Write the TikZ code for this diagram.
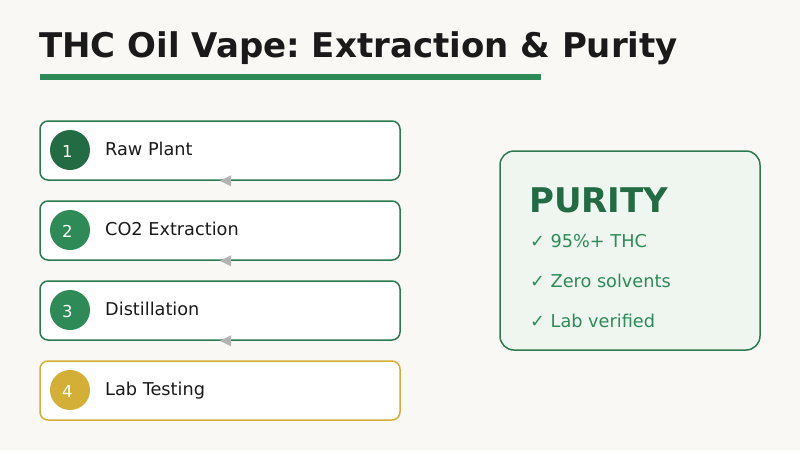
\documentclass[tikz,border=0pt]{standalone}
\usepackage{fontspec}
\setmainfont{DejaVu Sans}
\frenchspacing
\definecolor{bgc}{HTML}{F9F8F4}
\definecolor{dkgreen}{HTML}{226B43}
\definecolor{mdgreen}{HTML}{2E8B57}
\definecolor{bordergreen}{HTML}{2E7A50}
\definecolor{goldc}{HTML}{D4AF37}
\definecolor{txt}{HTML}{1A1A1A}
\definecolor{purfill}{HTML}{EFF6F0}
\definecolor{arrowgrey}{HTML}{B4B4B4}
\begin{document}
\begin{tikzpicture}[x=1pt,y=-1pt,
  stepbox/.style={draw=bordergreen,line width=1.5pt,fill=white,rounded corners=8pt,minimum width=360pt,minimum height=59pt,inner sep=0pt,anchor=center},
  numcirc/.style={circle,minimum size=40pt,inner sep=0pt},
  numtext/.style={anchor=center,inner sep=0pt,text=white,font=\fontsize{16.5}{19}\selectfont},
  steplabel/.style={anchor=base west,inner sep=0pt,text=txt,font=\fontsize{17.7}{21}\selectfont},
  itemtext/.style={anchor=base west,inner sep=0pt,text=mdgreen,font=\fontsize{17.7}{21}\selectfont},
  tip/.style={fill=arrowgrey}
]
\fill[bgc] (0,0) rectangle (800,450);
\useasboundingbox (0,0) rectangle (800,450);
% title
\node[anchor=base west,inner sep=0pt,text=txt,font=\bfseries\fontsize{34}{40}\selectfont] (title) at (39,57) {THC Oil Vape: Extraction \& Purity};
\fill[mdgreen] (40,74) rectangle (541,80);
% steps
\node[stepbox] (b1) at (220,150.5) {};
\node[stepbox] (b2) at (220,230.5) {};
\node[stepbox] (b3) at (220,310.5) {};
\node[stepbox,draw=goldc] (b4) at (220,390.5) {};
\node[numcirc,fill=dkgreen] (c1) at (70,150) {};
\node[numcirc,fill=mdgreen] (c2) at (70,230) {};
\node[numcirc,fill=mdgreen] (c3) at (70,310) {};
\node[numcirc,fill=goldc] (c4) at (70,390) {};
\node[numtext] (n1) at ([xshift=-2.7pt,yshift=-1pt]c1.center) {1};
\node[numtext] (n2) at ([xshift=-2.7pt,yshift=-1pt]c2.center) {2};
\node[numtext] (n3) at ([xshift=-2.7pt,yshift=-1pt]c3.center) {3};
\node[numtext] (n4) at ([xshift=-2.7pt,yshift=-1pt]c4.center) {4};
\node[steplabel] (l1) at (105,155.5) {Raw Plant};
\node[steplabel] (l2) at (105,235.5) {CO2 Extraction};
\node[steplabel] (l3) at (105,315.5) {Distillation};
\node[steplabel] (l4) at (105,395.5) {Lab Testing};
% arrow tips
\fill[tip] (b1.south) -- ++(11,-5.5) -- ++(0,11) -- cycle;
\fill[tip] (b2.south) -- ++(11,-5.5) -- ++(0,11) -- cycle;
\fill[tip] (b3.south) -- ++(11,-5.5) -- ++(0,11) -- cycle;
% purity box
\node[draw=bordergreen,line width=1.5pt,fill=purfill,rounded corners=14pt,minimum width=260pt,minimum height=199pt,inner sep=0pt] (pbox) at (630,250.5) {};
\node[anchor=base west,inner sep=0pt,text=dkgreen,font=\bfseries\fontsize{34}{40}\selectfont] (ptitle) at (529,212) {PURITY};
\node[itemtext] (i1) at (530,247.3) {✓ 95\%+ THC};
\node[itemtext] (i2) at (530,287.3) {✓ Zero solvents};
\node[itemtext] (i3) at (530,327.3) {✓ Lab verified};
\end{tikzpicture}
\end{document}
